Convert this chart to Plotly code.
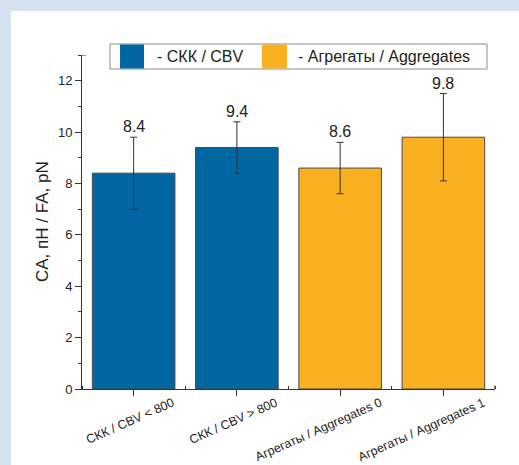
import plotly.graph_objects as go

# Data
categories = ["СКК / CBV < 800", "СКК / CBV > 800",
              "Агрегаты / Aggregates 0", "Агрегаты / Aggregates 1"]
values = [8.4, 9.4, 8.6, 9.8]
errors = [1.4, 1.0, 1.0, 1.7]
groups = ["СКК / CBV", "СКК / CBV", "Агрегаты / Aggregates", "Агрегаты / Aggregates"]
group_colors = {"СКК / CBV": "#0067a3", "Агрегаты / Aggregates": "#f9b122"}
legend_labels = ["- СКК / CBV", "- Агрегаты / Aggregates"]

W, H = 519, 465
ML, MR, MT, MB = 82, 24, 55, 76
PW, PH = W - ML - MR, H - MT - MB
FONT = "Liberation Sans, Arial, sans-serif"
Y_MAX = 13
X_MIN, X_MAX = -0.5, 3.5


def px(x):
    return (x - ML) / PW


def py(y):
    return (H - MB - y) / PH


xs = list(range(len(categories)))
colors = [group_colors[g] for g in groups]

fig = go.Figure()
fig.add_trace(go.Bar(
    x=xs, y=values, width=0.8,
    marker=dict(color=colors, line=dict(color="#4a4a4a", width=1)),
    error_y=dict(type="data", array=errors, visible=True,
                 color="#333333", thickness=1, width=3.5),
    showlegend=False,
))

annotations = []
# value labels above the error bars
for x, v, e in zip(xs, values, errors):
    annotations.append(dict(
        x=x, y=v + e, xref="x", yref="y", text=f"{v:.1f}",
        showarrow=False, xanchor="center", yanchor="bottom", yshift=0,
        font=dict(family=FONT, size=16, color="#222222"),
    ))
# rotated category labels
for x, c in zip(xs, categories):
    annotations.append(dict(
        x=x, y=0, xref="x", yref="paper", text=c, textangle=-24,
        showarrow=False, xanchor="right", yanchor="top",
        xshift=46, yshift=-4,
        font=dict(family=FONT, size=12.5, color="#222222"),
    ))
# y-axis title
annotations.append(dict(
    x=px(42), y=0.5, xref="paper", yref="paper", text="CA, пН / FA, pN",
    textangle=-90, showarrow=False, xanchor="center", yanchor="middle",
    font=dict(family=FONT, size=17, color="#222222"),
))

shapes = [
    # white panel on the light-blue page
    dict(type="rect", xref="paper", yref="paper", layer="below",
         x0=px(11), x1=px(W + 5), y0=py(H + 5), y1=py(11),
         fillcolor="white", line=dict(width=0)),
    # legend frame
    dict(type="rect", xref="paper", yref="paper",
         x0=px(110), x1=px(487), y0=py(69), y1=py(44),
         fillcolor="white", line=dict(color="#8a8a8a", width=1)),
    # end ticks at the far ends of both axes
    dict(type="line", xref="paper", yref="y", x0=0, x1=4 / PW,
         y0=Y_MAX, y1=Y_MAX, line=dict(color="#333333", width=1)),
    dict(type="line", xref="x", yref="paper", x0=X_MAX, x1=X_MAX,
         y0=0, y1=4 / PH, line=dict(color="#333333", width=1)),
]
legend_items = [(120, 144, 155, group_colors["СКК / CBV"], legend_labels[0]),
                (262, 287, 296, group_colors["Агрегаты / Aggregates"], legend_labels[1])]
for x0, x1, tx, col, lab in legend_items:
    shapes.append(dict(type="rect", xref="paper", yref="paper",
                       x0=px(x0), x1=px(x1), y0=py(68.5), y1=py(44.5),
                       fillcolor=col, line=dict(width=0)))
    annotations.append(dict(
        x=px(tx), y=py(56.5), xref="paper", yref="paper", text=lab,
        showarrow=False, xanchor="left", yanchor="middle",
        font=dict(family=FONT, size=16, color="#222222"),
    ))

fig.update_layout(
    width=W, height=H,
    margin=dict(l=ML, r=MR, t=MT, b=MB),
    paper_bgcolor="#d5e2f2",
    plot_bgcolor="white",
    font=dict(family=FONT, color="#222222"),
    bargap=0.2,
    shapes=shapes,
    annotations=annotations,
    xaxis=dict(
        range=[X_MIN, X_MAX], tickvals=xs, ticktext=[""] * len(xs),
        showgrid=False, zeroline=False, showline=True,
        linecolor="#333333", linewidth=1,
        ticks="outside", ticklen=6, tickcolor="#333333",
        minor=dict(tick0=0.5, dtick=1, ticks="inside", ticklen=3,
                   tickcolor="#333333", showgrid=False),
    ),
    yaxis=dict(
        range=[0, Y_MAX], tickvals=[0, 2, 4, 6, 8, 10, 12],
        showgrid=False, zeroline=False, showline=True,
        linecolor="#333333", linewidth=1,
        ticks="outside", ticklen=6, tickcolor="#333333",
        tickfont=dict(family=FONT, size=13, color="#222222"),
        minor=dict(tick0=1, dtick=2, ticks="outside", ticklen=3,
                   tickcolor="#333333", showgrid=False),
    ),
)

fig.write_html("out.html")
